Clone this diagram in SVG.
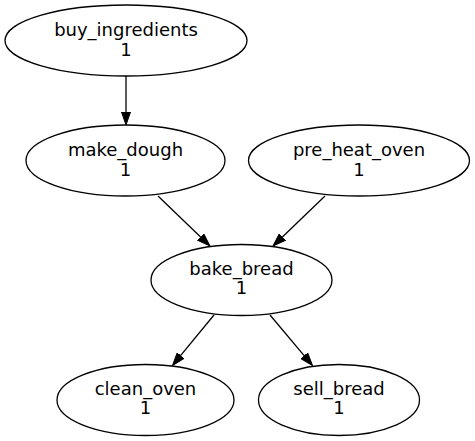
<svg xmlns="http://www.w3.org/2000/svg" width="475" height="441" viewBox="0 0 475 441">
<defs>
<style>
.node ellipse{fill:#fff;stroke:#000;stroke-width:1.3}
.node text{font-family:"DejaVu Sans","Liberation Sans",sans-serif;font-size:18px;text-anchor:middle;fill:#000}
.edge line{stroke:#000;stroke-width:1.3}
</style>
<marker id="arrow" markerUnits="userSpaceOnUse" markerWidth="14" markerHeight="10" viewBox="0 -5 14 10" refX="0" refY="0" orient="auto">
<path d="M0,-4.5 L13,0 L0,4.5 Z" fill="#000" stroke="#000" stroke-width="1"/>
</marker>
</defs>
<rect width="475" height="441" fill="#fff"/>
<g id="edges" class="edge">
<line x1="126" y1="76" x2="126" y2="112" marker-end="url(#arrow)"/>
<line x1="158" y1="196" x2="200.6" y2="237" marker-end="url(#arrow)"/>
<line x1="325" y1="196" x2="282.4" y2="237" marker-end="url(#arrow)"/>
<line x1="214" y1="315" x2="180.75" y2="355.46" marker-end="url(#arrow)"/>
<line x1="270" y1="315" x2="304.13" y2="355.55" marker-end="url(#arrow)"/>
</g>
<g id="buy_ingredients" class="node">
<ellipse cx="126" cy="40.5" rx="121" ry="35.5"/>
<text x="126" y="36">buy_ingredients</text>
<text x="126" y="55.5">1</text>
</g>
<g id="make_dough" class="node">
<ellipse cx="125.5" cy="160.5" rx="99.5" ry="35.5"/>
<text x="125.5" y="156">make_dough</text>
<text x="125.5" y="175.5">1</text>
</g>
<g id="pre_heat_oven" class="node">
<ellipse cx="359" cy="160.5" rx="110.5" ry="35.5"/>
<text x="359" y="156">pre_heat_oven</text>
<text x="359" y="175.5">1</text>
</g>
<g id="bake_bread" class="node">
<ellipse cx="241.5" cy="280" rx="90.5" ry="35.5"/>
<text x="241.5" y="274.5">bake_bread</text>
<text x="241.5" y="294">1</text>
</g>
<g id="clean_oven" class="node">
<ellipse cx="145.5" cy="400" rx="88.5" ry="35.5"/>
<text x="145.5" y="394.5">clean_oven</text>
<text x="145.5" y="414">1</text>
</g>
<g id="sell_bread" class="node">
<ellipse cx="339" cy="400" rx="80.5" ry="35.5"/>
<text x="339" y="394.5">sell_bread</text>
<text x="339" y="414">1</text>
</g>
</svg>
